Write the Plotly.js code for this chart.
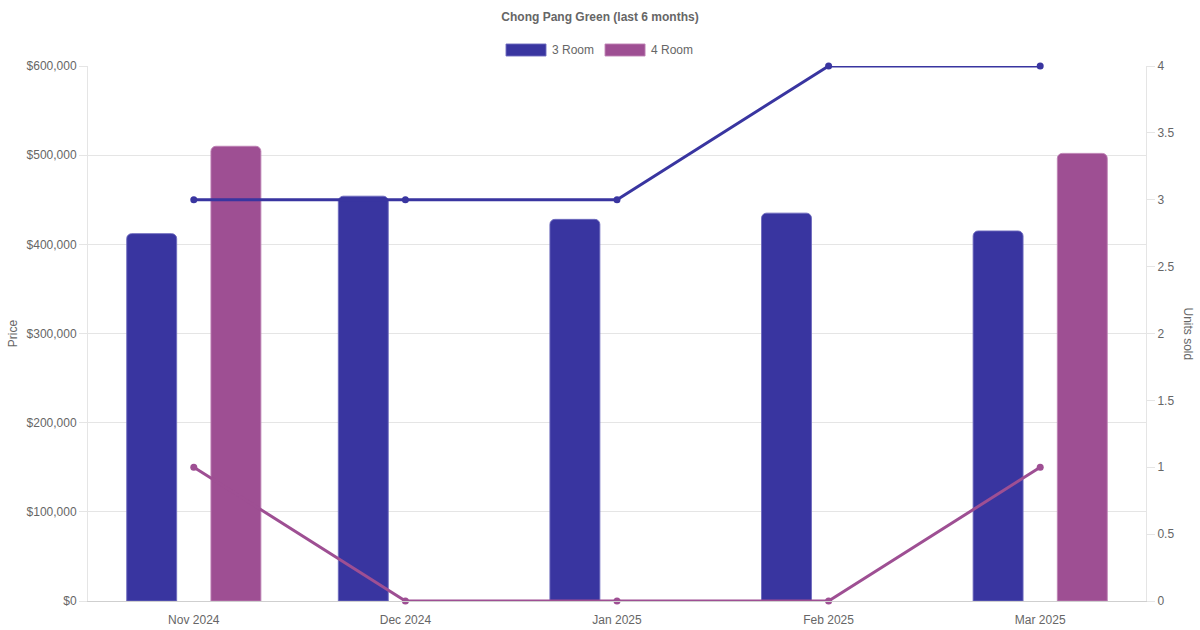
<!DOCTYPE html>
<html>
<head>
<meta charset="utf-8">
<script src="https://cdn.plot.ly/plotly-3.0.1.min.js"></script>
<style>
  html, body { margin: 0; padding: 0; background: #fff; }
  #chart { width: 1200px; height: 630px; }
</style>
</head>
<body>
<div id="chart"></div>
<script>
// data
let months = ["Nov 2024", "Dec 2024", "Jan 2025", "Feb 2025", "Mar 2025"]
let price3Room = [412000, 454000, 428000, 435000, 415000]
let price4Room = [510000, null, null, null, 502000]
let units3Room = [3, 3, 3, 4, 4]
let units4Room = [1, 0, 0, 0, 1]

let color3 = "rgb(57, 53, 160)"
let color4 = "rgb(158, 79, 147)"
let textColor = "#666"

let traces = [
    {
        type: "bar", name: "3 Room", x: months, y: price3Room,
        width: 0.236, offset: -0.317,
        marker: { color: color3, cornerradius: 5, line: { color: "rgba(110,106,190,0.9)", width: 1 } },
        showlegend: false, hoverinfo: "skip"
    },
    {
        type: "bar", name: "4 Room", x: months, y: price4Room,
        width: 0.236, offset: 0.081,
        marker: { color: color4, cornerradius: 5, line: { color: "rgba(190,130,180,0.9)", width: 1 } },
        showlegend: false, hoverinfo: "skip"
    },
    {
        type: "scatter", mode: "lines+markers", name: "3 Room units", x: months, y: units3Room,
        yaxis: "y2", line: { color: color3, width: 3 }, marker: { color: color3, size: 7 },
        cliponaxis: false, showlegend: false, hoverinfo: "skip"
    },
    {
        type: "scatter", mode: "lines+markers", name: "4 Room units", x: months, y: units4Room,
        yaxis: "y2", line: { color: color4, width: 3 }, marker: { color: color4, size: 7 },
        cliponaxis: false, showlegend: false, hoverinfo: "skip"
    }
]

let layout = {
    width: 1200,
    height: 630,
    margin: { l: 88, r: 54, t: 66, b: 29 },
    paper_bgcolor: "#fff",
    plot_bgcolor: "#fff",
    font: { family: "Liberation Sans, Arial, sans-serif", size: 12, color: textColor },
    title: {
        text: "<b>Chong Pang Green (last 6 months)</b>",
        font: { size: 12, color: textColor },
        x: 0.5, xref: "container", y: 1 - 17 / 630, yref: "container", yanchor: "middle"
    },
    barmode: "overlay",
    xaxis: {
        type: "category",
        showgrid: false,
        showline: true, linecolor: "#cfcfcf", linewidth: 1,
        ticks: "", ticklabelstandoff: 8,
        tickfont: { size: 12, color: textColor },
        fixedrange: true
    },
    yaxis: {
        range: [0, 600000], dtick: 100000,
        tickprefix: "$", tickformat: ",",
        showgrid: true, gridcolor: "#e5e5e5", gridwidth: 1,
        zeroline: false,
        showline: true, linecolor: "#e5e5e5",
        ticks: "outside", ticklen: 8, tickcolor: "#e5e5e5",
        title: { text: "Price", font: { size: 12, color: textColor }, standoff: 6 },
        fixedrange: true
    },
    yaxis2: {
        overlaying: "y", side: "right",
        range: [0, 4], dtick: 0.5,
        showgrid: false, zeroline: false,
        showline: true, linecolor: "#e5e5e5",
        ticks: "outside", ticklen: 8, tickcolor: "#e5e5e5",
        fixedrange: true
    },
    shapes: [
        { type: "rect", xref: "paper", yref: "paper", x0: 0.3951, x1: 0.4329, y0: 1.0187, y1: 1.0411,
          fillcolor: color3, line: { color: "rgba(110,106,190,0.9)", width: 1 } },
        { type: "rect", xref: "paper", yref: "paper", x0: 0.4887, x1: 0.5265, y0: 1.0187, y1: 1.0411,
          fillcolor: color4, line: { color: "rgba(190,130,180,0.9)", width: 1 } }
    ],
    annotations: [
        { text: "3 Room", xref: "paper", yref: "paper", x: 0.4367, y: 1.0299, xanchor: "left", yanchor: "middle",
          showarrow: false, font: { size: 12, color: textColor } },
        { text: "4 Room", xref: "paper", yref: "paper", x: 0.5302, y: 1.0299, xanchor: "left", yanchor: "middle",
          showarrow: false, font: { size: 12, color: textColor } },
        { text: "Units sold", xref: "paper", yref: "paper", x: 1.0397, y: 0.5, xanchor: "center", yanchor: "middle",
          textangle: 90, showarrow: false, font: { size: 12, color: textColor } }
    ],
    hovermode: false
}

Plotly.newPlot("chart", traces, layout, { displayModeBar: false, staticPlot: true })
</script>
</body>
</html>
